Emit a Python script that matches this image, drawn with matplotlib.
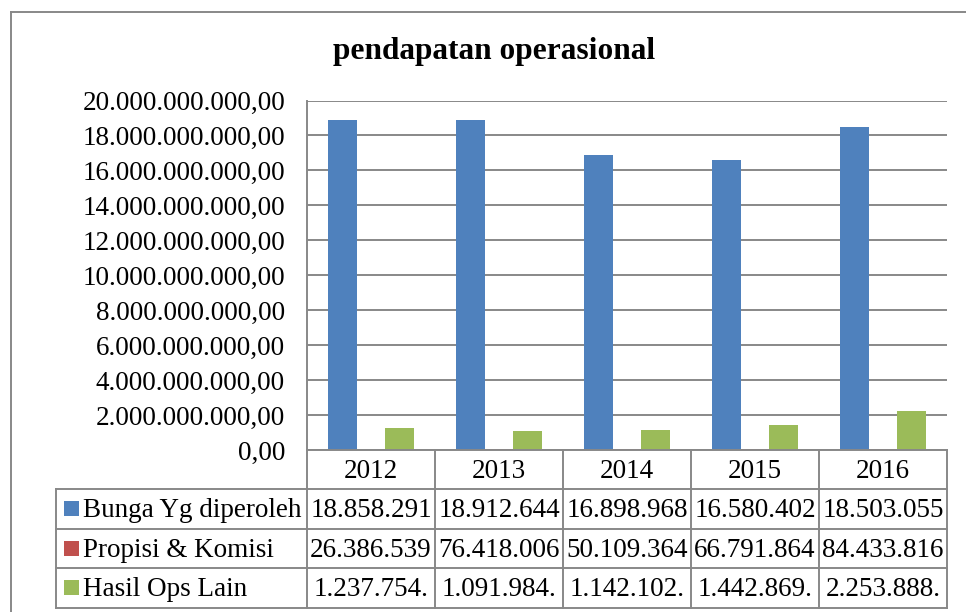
import matplotlib
matplotlib.use("Agg")
import matplotlib.pyplot as plt
from matplotlib.lines import Line2D
from matplotlib.patches import Rectangle
from matplotlib.ticker import FuncFormatter
import numpy as np

# ---- data ----
years = ["2012", "2013", "2014", "2015", "2016"]
series_names = ["Bunga Yg diperoleh", "Propisi & Komisi", "Hasil Ops Lain"]
bunga = [18858291000, 18912644000, 16898968000, 16580402000, 18503055000]
propisi = [26386539, 76418006, 50109364, 66791864, 84433816]
hasil = [1237754000, 1091984000, 1142102000, 1442869000, 2253888000]
colors = ["#4F81BD", "#C0504D", "#9BBB59"]
title = "pendapatan operasional"
y_ticks = [0, 2e9, 4e9, 6e9, 8e9, 10e9, 12e9, 14e9, 16e9, 18e9, 20e9]

W, H = 966, 612
FONT = "Liberation Serif"
GRAY = "#888888"
FS = 19.5

def fx(x):
    return x / W

def fy(y):
    return 1 - y / H

def id_fmt(v, decimals=2):
    s = f"{v:,.{decimals}f}"
    return s.replace(",", "X").replace(".", ",").replace("X", ".")

fig = plt.figure(figsize=(W / 100, H / 100), dpi=100)

# plot area geometry (pixels)
L, R, T, B = 307, 947, 100.5, 450
ax = fig.add_axes([fx(L), fy(B), fx(R - L), (B - T) / H])

series = [bunga, propisi, hasil]
bw = 1 / 4.5
x = np.arange(len(years))
for i, (vals, c) in enumerate(zip(series, colors)):
    ax.bar(x + (i - 1) * bw, vals, width=bw, color=c, linewidth=0, zorder=3)

ax.set_xlim(-0.5, len(years) - 0.5)
ax.set_ylim(0, 20e9)
ax.set_yticks(y_ticks)
ax.yaxis.set_major_formatter(FuncFormatter(lambda v, p: id_fmt(v)))
ax.tick_params(axis="y", length=0, pad=15.8, labelsize=FS)
for lab in ax.get_yticklabels():
    lab.set_fontfamily(FONT)
ax.set_xticks([])
ax.grid(axis="y", color=GRAY, linewidth=1.4, zorder=0)
for s in ["top", "right", "bottom", "left"]:
    ax.spines[s].set_visible(False)

# title
fig.text(fx(494), fy(52), title, ha="center", va="center", fontsize=22.6,
         fontweight="bold", family=FONT)

# outer chart border
lw = 1.4
fig.add_artist(Line2D([fx(11), fx(W + 5)], [fy(12), fy(12)], color=GRAY, lw=lw))
fig.add_artist(Line2D([fx(11), fx(11)], [fy(12), fy(H + 5)], color=GRAY, lw=lw))

# data table lines
col_edges = [L + k * (R - L) / len(years) for k in range(len(years) + 1)]
row_edges = [B, 489, 528.5, 568, 607.5]
tab_left = 56

def hline(x0, x1, y):
    fig.add_artist(Line2D([fx(x0), fx(x1)], [fy(y), fy(y)], color=GRAY, lw=lw))

def vline(x0, y0, y1):
    fig.add_artist(Line2D([fx(x0), fx(x0)], [fy(y0), fy(y1)], color=GRAY, lw=lw))

hline(L, R, B)
for yy in row_edges[1:]:
    hline(tab_left, R, yy)
vline(L, T, row_edges[-1])
for xx in col_edges[1:]:
    vline(xx, B, row_edges[-1])
vline(tab_left, row_edges[1], row_edges[-1])

# category labels
for k, yr in enumerate(years):
    cx = (col_edges[k] + col_edges[k + 1]) / 2
    fig.text(fx(cx), fy((row_edges[0] + row_edges[1]) / 2 + 2), yr,
             ha="center", va="center", fontsize=FS, family=FONT)

# table body
for r, (name, vals, c) in enumerate(zip(series_names, series, colors)):
    cy = (row_edges[r + 1] + row_edges[r + 2]) / 2
    fig.add_artist(Rectangle((fx(64), fy(cy + 7.5)), 15 / W, 15 / H,
                             transform=fig.transFigure, color=c, lw=0))
    fig.text(fx(83), fy(cy + 2), name, ha="left", va="center",
             fontsize=FS, family=FONT)
    for k, v in enumerate(vals):
        cx = (col_edges[k] + col_edges[k + 1]) / 2
        txt = id_fmt(v)[:10]
        fig.text(fx(cx), fy(cy + 2), txt, ha="center", va="center",
                 fontsize=FS, family=FONT)

fig.savefig("out.png", dpi=100)
